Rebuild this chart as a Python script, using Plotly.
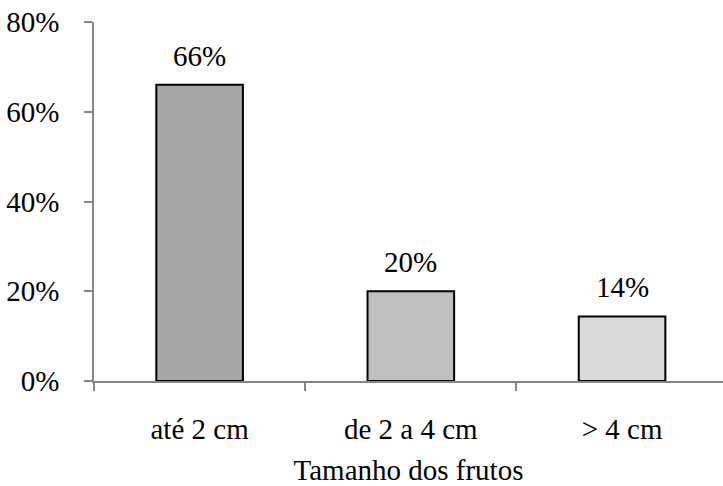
import plotly.graph_objects as go

categories = ["até 2 cm", "de 2 a 4 cm", "> 4 cm"]
values = [66.0, 20.0, 14.4]
bar_colors = ["#a6a6a6", "#bfbfbf", "#d9d9d9"]
y_ticks = [0, 20, 40, 60, 80]
x_title = "Tamanho dos frutos"

FONT = "Liberation Serif"
FS = 29

fig = go.Figure()
fig.add_trace(go.Bar(
    x=categories,
    y=values,
    width=0.41,
    marker=dict(color=bar_colors, line=dict(color="#000000", width=2)),
    showlegend=False,
    hoverinfo="skip",
))

for c, v in zip(categories, values):
    fig.add_annotation(
        x=c, y=v, text=f"{v:.0f}%", showarrow=False,
        yanchor="bottom", yshift=11,
        font=dict(family=FONT, size=FS, color="#000000"),
    )

fig.update_layout(
    width=723, height=486,
    margin=dict(l=94, r=0, t=22, b=105),
    paper_bgcolor="white", plot_bgcolor="white",
    font=dict(family=FONT, size=FS, color="#000000"),
)
fig.update_xaxes(
    type="category",
    categoryorder="array",
    categoryarray=categories,
    range=[-0.5, 2.478],
    tickson="boundaries",
    ticks="outside", ticklen=8, tickcolor="#868686", tickwidth=1.5,
    showline=True, linecolor="#868686", linewidth=1.5,
    showgrid=False, zeroline=False,
    tickfont=dict(family=FONT, size=FS, color="#000000"),
    title=dict(text=x_title, standoff=18, font=dict(family=FONT, size=FS, color="#000000")),
    ticklabelstandoff=21,
    automargin=False,
)
fig.update_yaxes(
    range=[0, 80],
    tickmode="array",
    tickvals=y_ticks,
    ticktext=[f"{t}%" for t in y_ticks],
    ticks="outside", ticklen=8, tickcolor="#868686", tickwidth=1.5,
    showline=True, linecolor="#868686", linewidth=1.5,
    showgrid=False, zeroline=False,
    tickfont=dict(family=FONT, size=FS, color="#000000"),
    ticklabelstandoff=19,
    automargin=False,
)

fig.write_html(
    "out.html",
    config={"displayModeBar": False},
    post_script="document.body.style.margin='0px';document.body.style.overflow='hidden';",
)
